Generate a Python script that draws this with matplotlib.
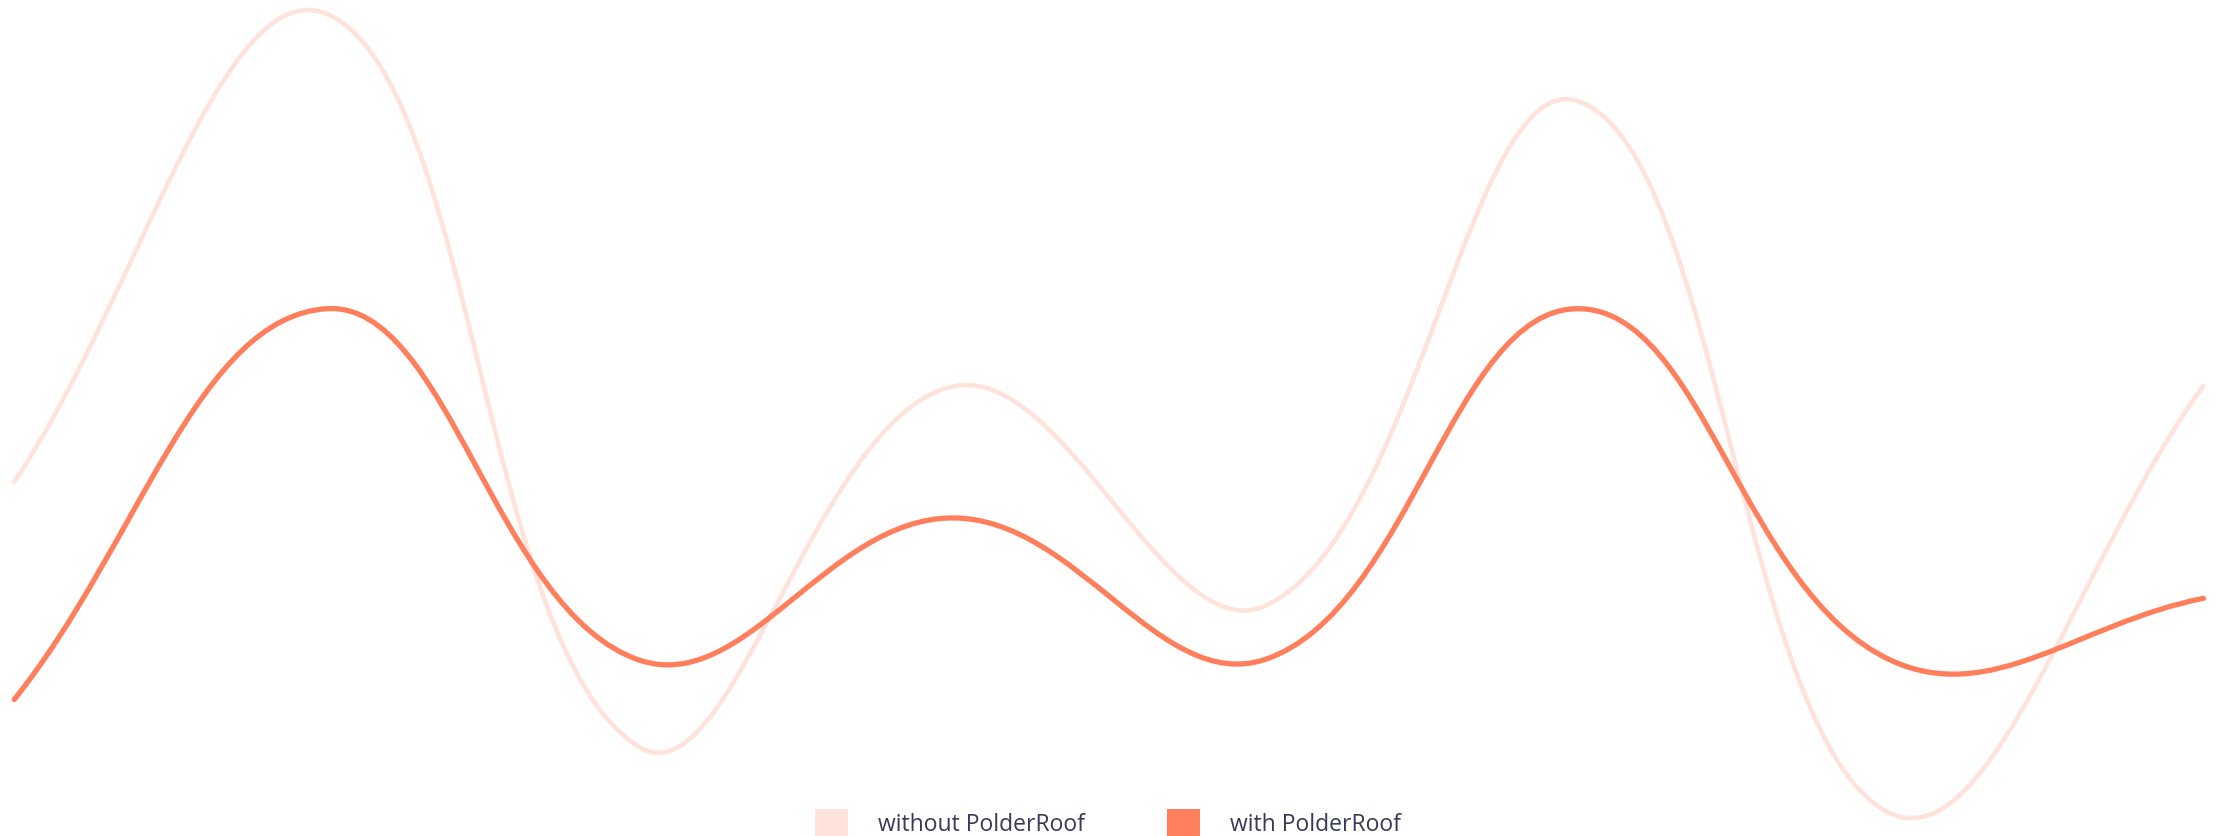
import numpy as np
import matplotlib
matplotlib.use("Agg")
import matplotlib.pyplot as plt
from matplotlib.patches import Patch, PathPatch
from matplotlib.path import Path

# Eight evenly spaced measurement moments
moments = np.arange(8)

# Runoff level per moment (relative units)
without_polderroof = [42.3, 98.2, 10.6, 53.7, 27.5, 87.8, 2.7, 53.8]
with_polderroof = [16.3, 63.0, 21.0, 38.0, 21.1, 63.0, 21.0, 28.4]

series_labels = ["without PolderRoof", "with PolderRoof"]
series_colors = ["#fee3dd", "#ff7f5d"]
legend_text_color = "#373b59"
TENSION = 0.4


def smooth_path(ax, x, y, tension=TENSION):
    """Bezier path through the points; control points are spaced by the
    on-screen distance to the neighbouring points."""
    pts = ax.transData.transform(np.column_stack([x, y]))
    n = len(pts)
    ctrl_prev = [None] * n
    ctrl_next = [None] * n
    for i in range(n):
        p0 = pts[i - 1] if i > 0 else pts[i]
        p1 = pts[i]
        p2 = pts[i + 1] if i < n - 1 else pts[i]
        d01 = np.hypot(*(p1 - p0))
        d12 = np.hypot(*(p2 - p1))
        tot = d01 + d12
        fa = tension * (d01 / tot if tot else 0.0)
        fb = tension * (d12 / tot if tot else 0.0)
        ctrl_prev[i] = p1 - fa * (p2 - p0)
        ctrl_next[i] = p1 + fb * (p2 - p0)
    verts = [pts[0]]
    codes = [Path.MOVETO]
    for i in range(n - 1):
        verts += [ctrl_next[i], ctrl_prev[i + 1], pts[i + 1]]
        codes += [Path.CURVE4] * 3
    verts = ax.transData.inverted().transform(np.array(verts))
    return Path(verts, codes)


fig = plt.figure(figsize=(22.29, 8.37), dpi=100)
fig.patch.set_facecolor("white")
ax = fig.add_axes([0, 0, 1, 1])
ax.set_axis_off()
ax.set_xlim(-0.0454, 7.0815)
ax.set_ylim(0, 100)

for values, color, lw in [
    (without_polderroof, series_colors[0], 3.3),
    (with_polderroof, series_colors[1], 3.8),
]:
    path = smooth_path(ax, moments, values)
    ax.add_patch(PathPatch(path, facecolor="none", edgecolor=color, lw=lw,
                           capstyle="round", joinstyle="round"))

handles = [Patch(facecolor=c, edgecolor="none") for c in series_colors]
leg = fig.legend(handles, series_labels, loc="lower center",
                 bbox_to_anchor=(0.497, 0.0), ncol=2, frameon=False,
                 prop={"family": "Open Sans", "size": 16.5},
                 handlelength=1.45, handleheight=1.45, handletextpad=1.3,
                 columnspacing=3.6, borderaxespad=0.0, borderpad=0.0)
for txt in leg.get_texts():
    txt.set_color(legend_text_color)

fig.savefig("out.png", dpi=100, facecolor="white")
